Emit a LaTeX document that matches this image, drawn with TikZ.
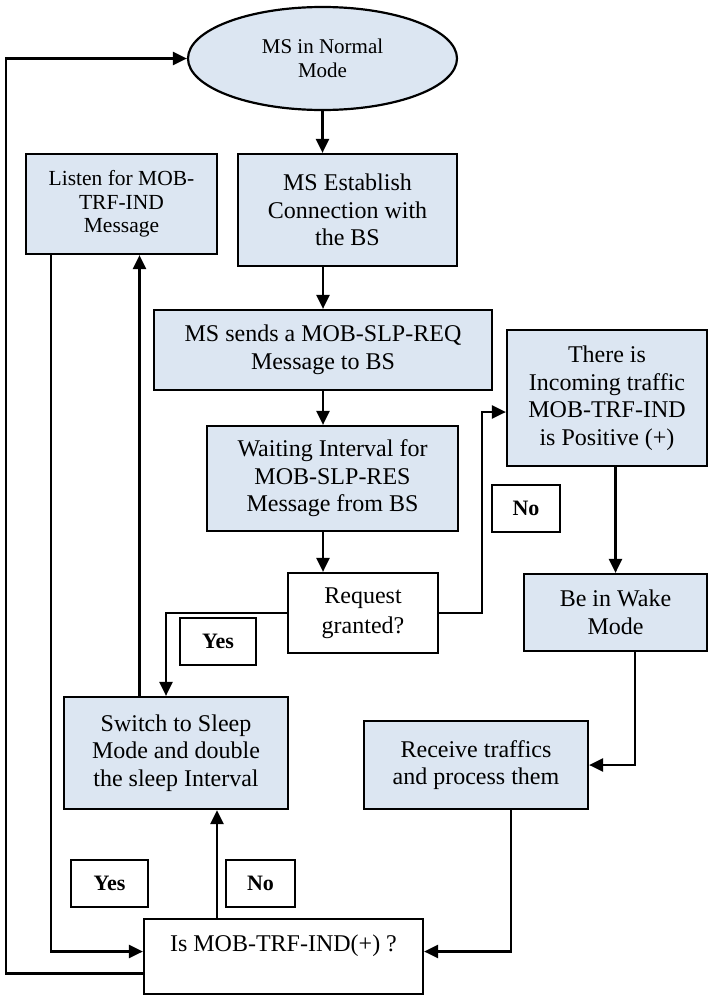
\documentclass[tikz,border=0pt]{standalone}
\usepackage{fontspec}
\setmainfont{Liberation Serif}
\usepackage{tikz}
\usetikzlibrary{arrows.meta}
\usetikzlibrary{shapes.geometric}
\definecolor{boxblue}{HTML}{DCE6F2}
\tikzset{
 proc/.style={draw=black, line width=2.2pt, fill=boxblue, align=center, inner sep=0pt,
   font=\fontsize{24}{27.5}\selectfont},
 decide/.style={proc, fill=white},
 oval/.style={proc, ellipse, font=\fontsize{21}{24}\selectfont},
 tag/.style={draw=black, line width=2pt, fill=white, inner sep=0pt,
   font=\fontsize{22}{24}\selectfont\bfseries, minimum height=47pt},
 flow/.style={line width=2.4pt, ->}
}

\begin{document}
\begin{tikzpicture} [x=1pt, y=-1pt, >={Triangle[length=14pt,width=13pt]}]
\useasboundingbox (0,0) rectangle (710,996);
% boxes
\node[oval, minimum width=269pt, minimum height=103pt] (normal) at (322.5,58.5) {MS in Normal\\Mode};
\node[proc, minimum width=191pt, minimum height=100pt, font=\fontsize{21.5}{23.5}\selectfont] (listen) at (121.5,204) {Listen for MOB-\\TRF-IND\\Message};
\node[proc, minimum width=219pt, minimum height=112pt] (establish) at (347.5,210) {MS Establish\\Connection with\\the BS};
\node[proc, minimum width=338pt, minimum height=80pt] (sends) at (323,350) {MS sends a MOB-SLP-REQ\\Message to BS};
\node[proc, minimum width=251pt, minimum height=105pt] (waiting) at (332.5,478.5) {Waiting Interval for\\MOB-SLP-RES\\Message from BS};
\node[decide, minimum width=150pt, minimum height=80pt, font=\fontsize{24}{30}\selectfont] (request) at (363,613) {Request\\granted?};
\node[proc, minimum width=200pt, minimum height=136pt] (incoming) at (607,398) {There is\\Incoming traffic\\MOB-TRF-IND\\is Positive (+)};
\node[proc, minimum width=183pt, minimum height=77pt] (wake) at (615.5,612.5) {Be in Wake\\Mode};
\node[proc, minimum width=224pt, minimum height=112pt] (switch) at (176,753) {Switch to Sleep\\Mode and double\\the sleep Interval};
\node[proc, minimum width=224pt, minimum height=88pt] (receive) at (476,765) {Receive traffics\\and process them};
\node[decide, minimum width=279pt, minimum height=75pt] (check) at (283.5,956.5) {Is MOB-TRF-IND(+) ?\\~};
% yes / no
\node[tag, minimum width=68pt] (noA) at (526,508.5) {No};
\node[tag, minimum width=76pt] (yesA) at (218,641) {Yes};
\node[tag, minimum width=77pt] (yesB) at (109.5,883.5) {Yes};
\node[tag, minimum width=69pt] (noB) at (260.5,883.5) {No};
% flow
\draw[flow] (normal.south) -- (normal.south |- establish.north);
\draw[flow] (sends.north |- establish.south) -- (sends.north);
\draw[flow] (sends.south) -- (sends.south |- waiting.north);
\draw[flow] (sends.south |- waiting.south) -- (sends.south |- request.north);
\draw[flow] (request.east) -- ++(43pt,0) |- ([yshift=-14pt]incoming.west);
\draw[flow] (wake.north |- incoming.south) -- (wake.north);
\draw[flow] ([xshift=19.5pt]wake.south) |- (receive.east);
\draw[flow] (request.west) -| ([xshift=-10pt]switch.north);
\draw[flow] ([xshift=-36.5pt]switch.north) coordinate (sw) -- (sw |- listen.south);
\draw[flow] ([xshift=-70.5pt]listen.south) |- ([yshift=5pt]check.west);
\draw[flow] ([yshift=-17pt]check.west) -- ++(-137pt,0) |- (normal.west);
\draw[flow] ([xshift=35pt]receive.south) |- ([yshift=5pt]check.east);
\draw[flow] ([xshift=-66.5pt]check.north) coordinate (ck) -- (ck |- switch.south);
\end{tikzpicture}
\end{document}
